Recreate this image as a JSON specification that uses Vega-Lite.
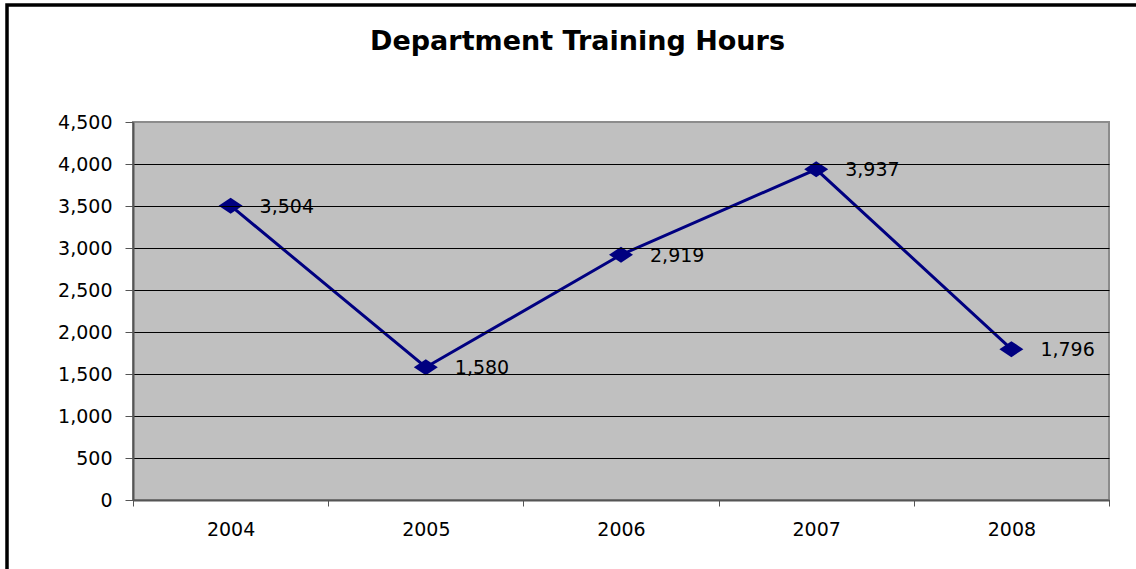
{
  "$schema": "https://vega.github.io/schema/vega-lite/v6.json",
  "autosize": {"type": "none"},
  "width": 1137,
  "height": 572,
  "padding": {"left": 7, "top": 5, "right": -8, "bottom": -8},
  "background": "white",
  "title": {
    "text": "Department Training Hours",
    "font": "DejaVu Sans",
    "fontSize": 27,
    "fontWeight": "bold",
    "color": "black",
    "anchor": "middle",
    "frame": "group",
    "orient": "top",
    "baseline": "alphabetic",
    "offset": -72,
    "dx": 2
  },
  "data": {
    "values": [
      {"year": 2004, "hours": 3504},
      {"year": 2005, "hours": 1580},
      {"year": 2006, "hours": 2919},
      {"year": 2007, "hours": 3937},
      {"year": 2008, "hours": 1796}
    ]
  },
  "layer": [
    {
      "data": {"values": [{}]},
      "mark": {"type": "rect", "fill": "#C0C0C0", "stroke": "#8C8C8C", "strokeWidth": 2},
      "encoding": {
        "x": {"datum": 2003.5, "type": "quantitative"},
        "x2": {"datum": 2008.5},
        "y": {"datum": 0, "type": "quantitative"},
        "y2": {"datum": 4500}
      }
    },
    {
      "mark": {"type": "line", "color": "#000080", "strokeWidth": 3},
      "encoding": {
        "x": {
          "field": "year",
          "type": "quantitative",
          "scale": {"domain": [2003.5, 2008.5], "range": [126, 1102], "nice": false, "zero": false},
          "axis": {
            "orient": "bottom",
            "offset": -77,
            "title": null,
            "values": [2003.5, 2004.5, 2005.5, 2006.5, 2007.5, 2008.5],
            "labelExpr": "datum.value < 2008 ? format(datum.value + 0.5, 'd') : ''",
            "labelOffset": 97.6,
            "labelOverlap": false,
            "labelBound": false,
            "labelFlush": false,
            "labelFont": "DejaVu Sans",
            "labelFontSize": 19,
            "labelColor": "black",
            "labelPadding": 14,
            "tickSize": 6,
            "tickColor": "#555555",
            "domainColor": "#555555",
            "domainWidth": 2,
            "grid": false,
            "zindex": 1
          }
        },
        "y": {
          "field": "hours",
          "type": "quantitative",
          "scale": {"domain": [0, 4500], "range": [495, 117], "nice": false, "zero": false},
          "axis": {
            "orient": "left",
            "offset": -126,
            "title": null,
            "values": [0, 500, 1000, 1500, 2000, 2500, 3000, 3500, 4000, 4500],
            "labelExpr": "format(datum.value, ',')",
            "labelOverlap": false,
            "labelBound": false,
            "labelFlush": false,
            "labelFont": "DejaVu Sans",
            "labelFontSize": 19,
            "labelColor": "black",
            "labelPadding": 13,
            "tickSize": 8,
            "tickColor": "#555555",
            "domainColor": "#555555",
            "domainWidth": 2,
            "grid": true,
            "gridColor": {"condition": {"test": "datum.value >= 4500", "value": "transparent"}, "value": "black"},
            "gridWidth": 1,
            "zindex": 1
          }
        }
      }
    },
    {
      "mark": {"type": "point", "shape": "M-1.5,0L0,-1L1.5,0L0,1Z", "size": 256, "filled": true, "color": "#000080", "opacity": 1},
      "encoding": {
        "x": {"field": "year", "type": "quantitative"},
        "y": {"field": "hours", "type": "quantitative"}
      }
    },
    {
      "mark": {"type": "text", "align": "left", "baseline": "middle", "dx": 29, "dy": 1, "font": "DejaVu Sans", "fontSize": 19, "color": "black"},
      "encoding": {
        "x": {"field": "year", "type": "quantitative"},
        "y": {"field": "hours", "type": "quantitative"},
        "text": {"field": "hours", "type": "quantitative", "format": ","}
      }
    }
  ],
  "config": {
    "view": {"stroke": "black", "strokeWidth": 3.5, "fill": "white"}
  }
}
